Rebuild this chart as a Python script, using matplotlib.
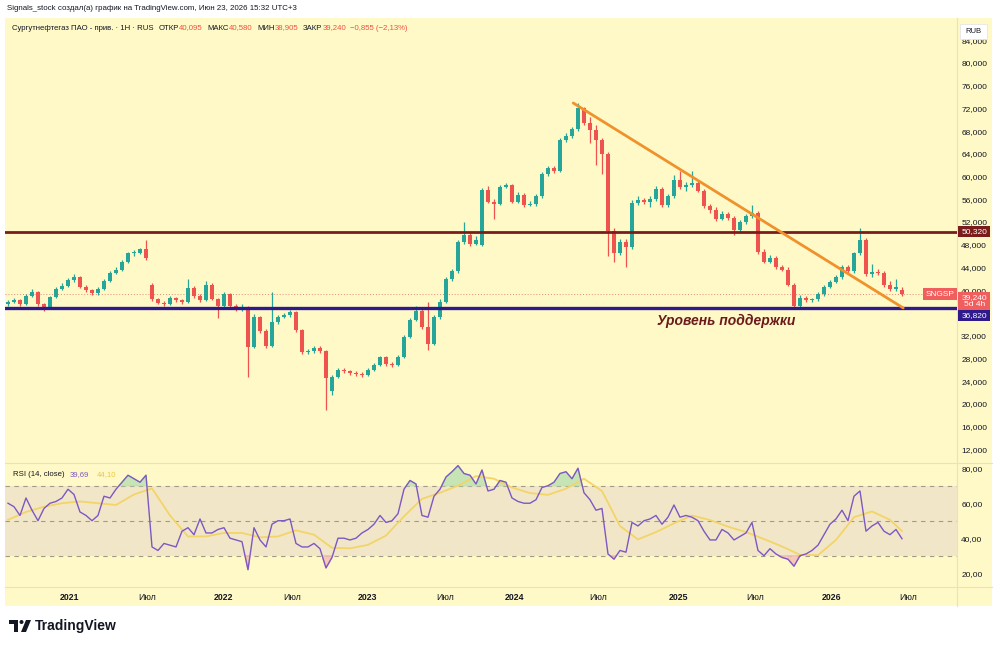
import numpy as np
import matplotlib
matplotlib.use("Agg")
import matplotlib.pyplot as plt
from matplotlib.patches import Rectangle, Polygon, Circle
from matplotlib.transforms import blended_transform_factory

plt.rcParams['font.family'] = ['Liberation Sans', 'DejaVu Sans']

# ---- weekly candles, SNGSP (RUB) ----
opens = [37.6, 38.0, 38.3, 37.6, 39.0, 39.7, 37.5, 36.8, 38.8, 40.2,
         40.8, 41.8, 42.3, 40.6, 40.0, 39.5, 40.2, 41.6, 43.0, 43.6,
         45.0, 46.5, 46.6, 47.2, 41.0, 38.4, 37.8, 37.6, 38.6, 38.2,
         37.9, 40.4, 39.0, 38.3, 41.0, 38.5, 37.3, 39.3, 37.3, 36.6,
         37.0, 30.0, 35.3, 32.8, 30.2, 34.4, 35.3, 35.6, 36.2, 33.0,
         29.1, 29.3, 29.8, 29.3, 22.3, 24.8, 26.0, 25.8, 25.4, 25.3,
         25.1, 26.0, 26.8, 28.2, 27.0, 26.9, 28.3, 31.8, 34.8, 36.4,
         33.5, 30.6, 35.3, 38.0, 42.0, 43.4, 48.5, 49.7, 48.2, 48.0,
         57.6, 55.6, 55.2, 58.2, 58.5, 55.6, 56.8, 55.0, 55.2, 56.5,
         60.5, 61.5, 61.0, 66.5, 67.2, 68.3, 72.0, 69.4, 68.2, 66.4,
         64.0, 50.5, 46.5, 48.5, 47.6, 55.4, 55.9, 55.5, 56.0, 57.8,
         55.0, 56.5, 59.4, 58.2, 58.5, 58.9, 57.5, 54.8, 54.2, 52.6,
         53.5, 52.7, 50.6, 52.0, 53.0, 53.6, 46.7, 45.0, 45.7, 44.1,
         43.6, 41.0, 37.2, 38.6, 38.2, 38.4, 39.3, 40.6, 41.5, 42.3,
         44.1, 43.4, 46.5, 48.8, 42.8, 43.2, 43.0, 40.9, 40.2, 40.095]
highs = [38.3, 38.6, 38.5, 39.3, 40.2, 39.9, 37.7, 39.0, 40.6, 41.2,
         42.2, 42.8, 42.5, 40.9, 40.2, 40.5, 41.9, 43.3, 44.0, 45.3,
         46.8, 47.0, 47.5, 48.8, 41.3, 38.7, 38.1, 38.9, 38.8, 38.5,
         42.0, 40.7, 39.3, 41.6, 41.2, 38.7, 39.7, 39.5, 37.6, 37.5,
         37.3, 35.8, 35.5, 33.1, 39.7, 35.7, 36.0, 36.5, 36.4, 33.2,
         29.7, 30.1, 30.2, 29.5, 25.0, 26.3, 26.3, 26.0, 25.7, 25.6,
         26.3, 27.2, 28.5, 28.4, 27.3, 28.6, 32.1, 35.1, 37.3, 36.6,
         37.9, 35.6, 38.4, 42.3, 43.8, 48.9, 52.0, 50.1, 49.5, 58.0,
         58.4, 56.0, 58.6, 58.9, 58.7, 57.3, 57.1, 55.7, 56.9, 60.8,
         61.9, 61.9, 66.8, 67.6, 68.7, 73.0, 72.3, 70.5, 69.0, 66.8,
         64.3, 51.0, 49.0, 49.0, 55.8, 56.5, 56.3, 56.5, 58.3, 58.2,
         57.0, 60.2, 61.0, 59.0, 61.0, 59.3, 57.8, 55.2, 54.6, 53.9,
         53.8, 53.0, 52.4, 53.4, 55.0, 53.9, 47.2, 46.2, 46.0, 44.5,
         44.0, 41.3, 39.2, 38.9, 38.7, 39.6, 40.9, 41.8, 42.7, 44.5,
         44.5, 46.8, 50.9, 49.2, 44.6, 43.8, 43.4, 41.6, 42.0, 40.58]
lows = [37.3, 37.8, 37.3, 37.4, 38.8, 37.2, 36.3, 36.6, 38.6, 40.0,
        40.5, 41.5, 40.3, 39.7, 39.2, 39.2, 40.0, 41.4, 42.8, 43.4,
        44.8, 46.1, 46.3, 45.4, 38.1, 37.5, 37.3, 37.4, 37.9, 37.6,
        37.7, 38.7, 38.0, 38.1, 38.2, 35.1, 37.0, 37.0, 36.3, 36.3,
        24.7, 29.8, 32.5, 29.9, 30.0, 34.1, 35.1, 35.3, 32.7, 28.8,
        28.7, 29.0, 29.0, 18.9, 21.6, 24.5, 25.4, 25.0, 24.9, 24.8,
        24.9, 25.8, 26.6, 26.7, 26.4, 26.7, 28.0, 31.5, 34.5, 33.2,
        29.5, 30.3, 35.0, 37.7, 41.7, 43.1, 48.2, 47.8, 47.9, 47.7,
        55.3, 52.5, 55.0, 58.0, 55.3, 55.4, 54.7, 54.8, 54.9, 56.2,
        60.1, 60.7, 60.8, 66.1, 66.8, 68.0, 69.0, 66.0, 62.0, 60.5,
        46.0, 45.0, 46.2, 44.1, 47.3, 55.0, 55.1, 54.7, 55.7, 54.6,
        54.7, 56.2, 57.9, 57.5, 58.2, 57.2, 54.5, 53.6, 52.2, 52.3,
        52.3, 49.8, 50.3, 51.7, 52.7, 46.4, 44.7, 44.8, 43.8, 43.3,
        40.7, 36.6, 36.8, 37.9, 37.9, 38.1, 39.0, 40.3, 41.2, 42.0,
        43.1, 43.1, 46.2, 42.5, 42.4, 42.6, 40.6, 39.9, 39.9, 38.905]
closes = [38.0, 38.3, 37.6, 39.0, 39.7, 37.5, 36.8, 38.8, 40.2, 40.8,
          41.8, 42.3, 40.6, 40.0, 39.5, 40.2, 41.6, 43.0, 43.6, 45.0,
          46.5, 46.6, 47.2, 45.7, 38.4, 37.8, 37.6, 38.6, 38.2, 37.9,
          40.4, 39.0, 38.3, 41.0, 38.5, 37.3, 39.3, 37.3, 36.6, 37.0,
          30.0, 35.3, 32.8, 30.2, 34.4, 35.3, 35.6, 36.2, 33.0, 29.1,
          29.3, 29.8, 29.3, 24.5, 24.8, 26.0, 25.8, 25.4, 25.3, 25.1,
          26.0, 26.8, 28.2, 27.0, 26.9, 28.3, 31.8, 34.8, 36.4, 33.5,
          30.6, 35.3, 38.0, 42.0, 43.4, 48.5, 49.7, 48.2, 48.9, 57.6,
          55.6, 55.2, 58.2, 58.5, 55.6, 56.8, 55.0, 55.2, 56.5, 60.5,
          61.5, 61.0, 66.5, 67.2, 68.3, 72.0, 69.4, 68.2, 66.4, 64.0,
          50.5, 46.5, 48.5, 47.6, 55.4, 55.9, 55.5, 56.0, 57.8, 55.0,
          56.5, 59.4, 58.2, 58.5, 58.9, 57.5, 54.8, 54.2, 52.6, 53.5,
          52.7, 50.6, 52.0, 53.0, 53.6, 46.7, 45.0, 45.7, 44.1, 43.6,
          41.0, 37.2, 38.6, 38.2, 38.4, 39.3, 40.6, 41.5, 42.3, 44.1,
          43.4, 46.5, 48.8, 42.8, 43.2, 43.0, 40.9, 40.2, 40.5, 39.24]

# RSI(14) and its moving average (MA sampled every third candle)
rsi = [60, 58, 53, 63, 56, 50, 57, 60, 61, 63, 68, 65, 55, 53, 50, 53, 64, 63, 68, 72,
       76, 74, 72, 76, 35, 33, 37, 36, 35, 44, 46, 42, 51, 43, 43, 45, 46, 40, 39, 38,
       22, 46, 39, 35, 48, 50, 50, 51, 37, 35, 35, 37, 34, 23, 29, 40, 40, 39, 40, 43,
       45, 48, 53, 49, 50, 54, 68, 73, 71, 53, 52, 64, 68, 75, 78, 81.5, 77, 76, 71, 79,
       67, 68, 73, 72, 63, 61, 60, 60, 62, 69, 70, 72, 77, 78, 74, 80, 66, 62, 56, 57,
       31, 28, 33, 32, 49, 47, 50, 51, 53, 48, 52, 59, 52, 53, 52, 50, 44, 39, 39, 45,
       43, 39, 41, 43, 49, 33, 30, 34, 31, 29, 28, 24, 30, 31, 33, 36, 42, 48, 51, 56,
       50, 64, 67, 44, 47, 49, 44, 42, 45, 39.69]
rsi_ma_idx = [0, 3, 6, 9, 12, 15, 18, 21, 24, 27, 30, 33, 36, 39, 42, 45, 48, 51, 54, 57,
              60, 63, 66, 69, 72, 75, 78, 81, 84, 87, 90, 93, 96, 99, 102, 105, 108, 111,
              114, 117, 120, 123, 126, 129, 132, 135, 138, 141, 144, 147, 149]
rsi_ma = [50.5, 55, 58, 60, 61, 60, 59, 65, 68.5, 53, 41, 41, 43, 43, 40.5, 41, 44.5, 42,
          34.5, 34.2, 36.2, 41.5, 52.5, 62.5, 66, 70, 75.5, 74, 69, 65.8, 64.8, 68.3, 74,
          67, 47, 39.3, 43.5, 48.5, 53, 50.4, 46.6, 43.5, 39.5, 35.3, 30.5, 30.3, 39, 52,
          55.3, 50.5, 44.10]

# levels, trend line, time axis
resistance = 50.32
support = 36.82
last_price = 39.24
trend_x = [94.2, 149.2]
trend_y = [72.96, 36.87]
price_ticks = [12, 16, 20, 24, 28, 32, 40, 44, 48, 52, 56, 60, 64, 68, 72, 76, 80, 84]
time_pos = [10.3, 23.2, 36.0, 47.3, 60.0, 72.8, 84.5, 98.3, 111.7, 124.5, 137.3, 150.0]
time_lbl = ['2021', 'Июл', '2022', 'Июл', '2023', 'Июл', '2024', 'Июл', '2025', 'Июл', '2026', 'Июл']

PANEL = '#fff9c8'
BAND = '#f1e7c8'
GREEN = '#26a69a'
RED = '#ef5350'
TXT = '#131722'
SEP = '#ece2b2'

W, H = 1000, 646


def fig_rect(x0, y0, x1, y1):
    return [x0 / W, 1 - y1 / H, (x1 - x0) / W, (y1 - y0) / H]


def fmt(v, nd):
    return f"{v:.{nd}f}".replace('.', ',')


def chain(axes, x, y, parts, fs):
    # lay out text pieces one after another, gap in points before each piece
    prev = None
    for s, cc, gap in parts:
        if prev is None:
            prev = axes.text(x, y, s, fontsize=fs, color=cc, va='center', ha='left')
        else:
            prev = axes.annotate(s, xy=(1, 0.5), xycoords=prev, xytext=(gap, 0),
                                 textcoords='offset points', fontsize=fs, color=cc,
                                 va='center', ha='left')
    return prev


fig = plt.figure(figsize=(10, 6.46), dpi=100)
fig.patch.set_facecolor('white')

bg = fig.add_axes([0, 0, 1, 1], zorder=0)
bg.set_xlim(0, W)
bg.set_ylim(H, 0)
bg.axis('off')
bg.add_patch(Rectangle((5, 18), 987, 588, color=PANEL, lw=0))
bg.plot([957, 957], [18, 606], color=SEP, lw=0.8)
bg.plot([5, 992], [463, 463], color=SEP, lw=0.8)
bg.plot([5, 992], [587, 587], color=SEP, lw=0.8)

xlim = (-0.5, 158.17)

# ---- price pane ----
ax = fig.add_axes(fig_rect(5, 18, 957, 462), zorder=2)
ax.set_facecolor('none')
ax.set_xlim(*xlim)
ax.set_ylim(9.75, 87.92)
for s in ax.spines.values():
    s.set_visible(False)

idx = np.arange(len(closes))
o = np.array(opens)
c = np.array(closes)
col = np.where(c >= o, GREEN, RED)
ax.vlines(idx, lows, highs, colors=col, lw=0.9, zorder=3)
ax.bar(idx, np.maximum(np.abs(c - o), 0.15), bottom=np.minimum(o, c), width=0.6,
       color=col, zorder=4)

ax.axhline(resistance, color='#7b1c1c', lw=2, zorder=5)
ax.axhline(support, color='#2f1a8c', lw=2.4, zorder=5)
ax.axhline(last_price, color='#e88a7a', lw=0.7, ls=(0, (1, 2)), zorder=2)
ax.plot(trend_x, trend_y, color='#f0922b', lw=2, zorder=6, solid_capstyle='round')

ax.text(108.2, 34.6, 'Уровень поддержки', color='#6b1b1b', fontsize=10,
        fontweight='bold', fontstyle='italic', va='center', ha='left')

ax.set_xticks([])
ax.set_yticks(price_ticks)
ax.set_yticklabels([fmt(v, 3) for v in price_ticks])
ax.tick_params(axis='y', left=False, right=False, labelleft=False, labelright=True,
               length=0, pad=3, labelsize=6, labelcolor=TXT)

# price-scale labels: boxes spanning the scale column
tr = blended_transform_factory(ax.transAxes, ax.transData)
px = 1 / 5.68  # price units per pixel


def scale_box(center, h_px, color, text):
    ax.add_patch(Rectangle((1.001, center - h_px * px / 2), 0.034, h_px * px, transform=tr,
                           fc=color, ec='none', clip_on=False, zorder=9))
    ax.text(1.018, center, text, transform=tr, fontsize=6, color='white', ha='center',
            va='center', linespacing=1.0, zorder=10, clip_on=False)


scale_box(resistance, 11, '#7b1c1c', fmt(resistance, 3))
scale_box(last_price - 6.5 * px, 18, '#f05e5e', fmt(last_price, 3) + '\n5d 4h')
scale_box(support - 7.5 * px, 11, '#2f1a8c', fmt(support, 3))
ax.text(0.997, last_price, 'SNGSP', transform=tr, fontsize=6, color='white',
        va='center', ha='right', zorder=10,
        bbox=dict(boxstyle='square,pad=0.3', fc='#f05e5e', ec='none'))

# ---- RSI pane ----
ax2 = fig.add_axes(fig_rect(5, 463, 957, 587), zorder=2)
ax2.set_facecolor('none')
ax2.set_xlim(*xlim)
ax2.set_ylim(12.1, 83)
for s in ax2.spines.values():
    s.set_visible(False)
ax2.axhspan(30, 70, color=BAND, lw=0, zorder=1)
for lvl in (70, 50, 30):
    ax2.axhline(lvl, color='#a09a86', lw=0.8, ls=(0, (4, 4)), zorder=2)
r = np.array(rsi)
ax2.fill_between(idx, 70, r, where=r > 70, interpolate=True, color='#b9e0b0', alpha=0.8, zorder=2)
ax2.fill_between(idx, 30, r, where=r < 30, interpolate=True, color='#f5bcb2', alpha=0.8, zorder=2)
ax2.plot(rsi_ma_idx, rsi_ma, color='#f3d467', lw=1.3, zorder=3)
ax2.plot(idx, rsi, color='#7e57c2', lw=1, zorder=4)
ax2.set_yticks([20, 40, 60, 80])
ax2.set_yticklabels([fmt(v, 2) for v in (20, 40, 60, 80)])
ax2.tick_params(axis='y', left=False, right=False, labelleft=False, labelright=True,
                length=0, pad=3, labelsize=6, labelcolor=TXT)
ax2.set_xticks(time_pos)
ax2.set_xticklabels(time_lbl)
ax2.tick_params(axis='x', length=0, pad=4, labelsize=6.3, labelcolor=TXT)
for t in ax2.get_xticklabels():
    if t.get_text() != 'Июл':
        t.set_fontweight('bold')

# ---- texts and decorations ----
fg = fig.add_axes([0, 0, 1, 1], zorder=10)
fg.set_xlim(0, W)
fg.set_ylim(H, 0)
fg.axis('off')
fg.patch.set_alpha(0)

fg.text(7, 9, 'Signals_stock создал(а) график на TradingView.com, Июн 23, 2026 15:32 UTC+3',
        fontsize=5.7, color=TXT, va='center')
VAL = '#f0513f'
chain(fg, 12, 28, [('Сургутнефтегаз ПАО - прив. · 1H · RUS', TXT, 0),
                   ('ОТКР', TXT, 3.5), ('40,095', VAL, 0),
                   ('МАКС', TXT, 3.5), ('40,580', VAL, 0),
                   ('МИН', TXT, 3.5), ('38,905', VAL, 0),
                   ('ЗАКР', TXT, 3.5), ('39,240', VAL, 0),
                   ('−0,855 (−2,13%)', VAL, 3)], 5.6)

chain(fg, 13, 475, [('RSI (14, close)', TXT, 0),
                    (fmt(rsi[-1], 2), '#7e57c2', 4),
                    (fmt(rsi_ma[-1], 2), '#eec643', 5)], 5.6)

fg.add_patch(Rectangle((960, 24), 27, 15, fc='white', ec='#e6e6e6', lw=0.6))
fg.text(973.5, 31.5, 'RUB', fontsize=5.5, color=TXT, ha='center', va='center')

# TradingView logo
fg.add_patch(Polygon([(9, 620), (18, 620), (18, 632), (14, 632), (14, 624), (9, 624)],
                     closed=True, color=TXT, lw=0))
fg.add_patch(Circle((21.5, 622), 2, color=TXT, lw=0))
fg.add_patch(Polygon([(26, 620), (31, 620), (26, 632), (21, 632)], closed=True, color=TXT, lw=0))
fg.text(35, 626, 'TradingView', fontsize=10, fontweight='bold', color=TXT, va='center')

fig.savefig('out.png', dpi=100, facecolor='white')
